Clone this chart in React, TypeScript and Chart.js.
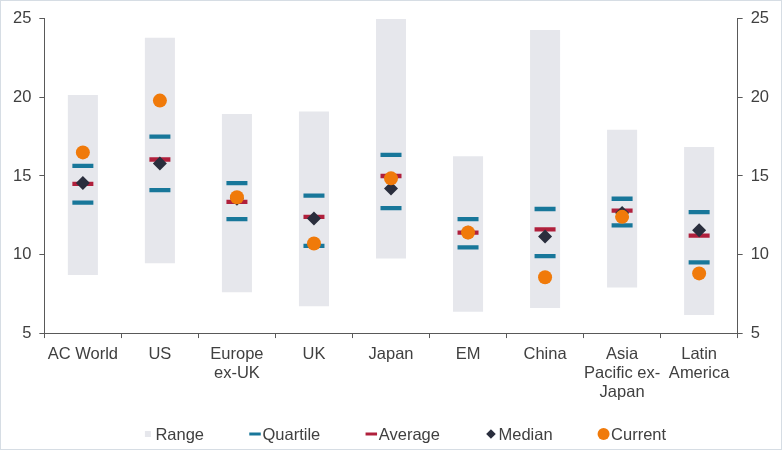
import React, { useEffect, useRef } from "react";
import { Chart, registerables } from "chart.js";

Chart.register(...registerables);

const FONT = "'Liberation Sans', Arial, sans-serif";
const TEXT_COLOR = "#404040";
const AXIS_COLOR = "#595959";

const categories = [
  "AC World",
  "US",
  "Europe ex-UK",
  "UK",
  "Japan",
  "EM",
  "China",
  "Asia Pacific ex-Japan",
  "Latin America",
];
const tickLabels = [
  ["AC World"],
  ["US"],
  ["Europe", "ex-UK"],
  ["UK"],
  ["Japan"],
  ["EM"],
  ["China"],
  ["Asia", "Pacific ex-", "Japan"],
  ["Latin", "America"],
];
const rangeLow = [8.7, 9.45, 7.6, 6.7, 9.75, 6.35, 6.6, 7.9, 6.15];
const rangeHigh = [20.15, 23.8, 18.95, 19.1, 25.0, 16.25, 24.3, 17.95, 16.85];
const quartileUpper = [15.65, 17.5, 14.55, 13.75, 16.35, 12.25, 12.9, 13.55, 12.7];
const quartileLower = [13.3, 14.1, 12.25, 10.55, 12.95, 10.45, 9.9, 11.85, 9.5];
const average = [14.5, 16.05, 13.35, 12.4, 15.0, 11.4, 11.6, 12.8, 11.2];
const median = [14.55, 15.8, 13.55, 12.3, 14.2, 11.4, 11.15, 12.65, 11.55];
const current = [16.5, 19.8, 13.65, 10.7, 14.85, 11.4, 8.55, 12.4, 8.8];
const yMin = 5;
const yMax = 25;
const yStep = 5;

const COLORS = {
  range: "#E6E7EC",
  quartile: "#18779A",
  average: "#B0203C",
  median: "#2A2E3D",
  current: "#F07A0A",
};

const legendPlugin = {
  id: "customLegend",
  afterDraw(chart: any) {
    const ctx: CanvasRenderingContext2D = chart.ctx;
    const items = [
      { text: "Range", kind: "rect", color: COLORS.range },
      { text: "Quartile", kind: "line", color: COLORS.quartile },
      { text: "Average", kind: "line", color: COLORS.average },
      { text: "Median", kind: "diamond", color: COLORS.median },
      { text: "Current", kind: "circle", color: COLORS.current },
    ];
    ctx.save();
    ctx.font = `16.5px ${FONT}`;
    const box = 12;
    const textGap = 1.5;
    const itemGap = 45;
    const widths = items.map((it) => box + textGap + ctx.measureText(it.text).width);
    const total = widths.reduce((a, b) => a + b, 0) + itemGap * (items.length - 1);
    const area = chart.chartArea;
    let x = (area.left + area.right) / 2 + 13 - total / 2;
    const y = chart.height - 15;
    items.forEach((it, i) => {
      const cx = x + box / 2;
      ctx.fillStyle = it.color;
      ctx.strokeStyle = it.color;
      if (it.kind === "rect") {
        ctx.fillRect(cx - 3, y - 3, 6, 6);
      } else if (it.kind === "line") {
        ctx.lineWidth = 3;
        ctx.beginPath();
        ctx.moveTo(cx - 5.75, y);
        ctx.lineTo(cx + 5.75, y);
        ctx.stroke();
      } else if (it.kind === "diamond") {
        const r = 4.8;
        ctx.beginPath();
        ctx.moveTo(cx - r, y);
        ctx.lineTo(cx, y - r);
        ctx.lineTo(cx + r, y);
        ctx.lineTo(cx, y + r);
        ctx.closePath();
        ctx.fill();
      } else {
        ctx.beginPath();
        ctx.arc(cx, y, 6, 0, Math.PI * 2);
        ctx.fill();
      }
      ctx.fillStyle = TEXT_COLOR;
      ctx.textBaseline = "middle";
      ctx.textAlign = "left";
      ctx.fillText(it.text, x + box + textGap, y + 1);
      x += widths[i] + itemGap;
    });
    ctx.restore();
  },
};

export default function App() {
  const canvasRef = useRef<HTMLCanvasElement | null>(null);

  useEffect(() => {
    document.body.style.margin = "0";
    const canvas = canvasRef.current;
    if (!canvas) return;

    const markerLine = (label: string, data: number[], color: string, order: number) => ({
      type: "line" as const,
      label,
      data,
      showLine: false,
      pointStyle: "line",
      pointRadius: 10.5,
      pointBorderWidth: 4.3,
      borderColor: color,
      backgroundColor: color,
      pointBorderColor: color,
      order,
      yAxisID: "y",
    });

    const axisGrid = {
      display: true,
      drawOnChartArea: false,
      drawTicks: true,
      tickLength: 5,
      color: AXIS_COLOR,
    };

    const chart = new Chart(canvas, {
      type: "bar",
      data: {
        labels: categories,
        datasets: [
          {
            type: "bar",
            label: "Range",
            data: categories.map((_, i) => [rangeLow[i], rangeHigh[i]]) as any,
            backgroundColor: COLORS.range,
            borderWidth: 0,
            barPercentage: 0.39,
            categoryPercentage: 1,
            order: 6,
            yAxisID: "y",
          },
          markerLine("Quartile", quartileUpper, COLORS.quartile, 5) as any,
          markerLine("Quartile low", quartileLower, COLORS.quartile, 4) as any,
          markerLine("Average", average, COLORS.average, 3) as any,
          {
            type: "line",
            label: "Median",
            data: median,
            showLine: false,
            pointStyle: "rectRot",
            pointRadius: 7,
            pointBorderWidth: 0,
            backgroundColor: COLORS.median,
            borderColor: COLORS.median,
            order: 2,
            yAxisID: "y",
          } as any,
          {
            type: "line",
            label: "Current",
            data: current,
            showLine: false,
            pointStyle: "circle",
            pointRadius: 7,
            pointBorderWidth: 0,
            backgroundColor: COLORS.current,
            borderColor: COLORS.current,
            order: 1,
            yAxisID: "y",
          } as any,
        ],
      },
      options: {
        animation: false,
        responsive: false,
        events: [],
        layout: { padding: { top: 8, left: 4, right: 4, bottom: 40 } },
        plugins: {
          legend: { display: false },
          tooltip: { enabled: false },
        },
        scales: {
          x: {
            offset: true,
            grid: { ...axisGrid, offset: true },
            border: { display: true, color: AXIS_COLOR, width: 1 },
            ticks: {
              color: TEXT_COLOR,
              font: { family: FONT, size: 16.5, lineHeight: 1.15 },
              padding: 7,
              maxRotation: 0,
              autoSkip: false,
              callback: (_v: any, i: number) => tickLabels[i],
            },
          },
          y: {
            position: "left",
            min: yMin,
            max: yMax,
            grid: axisGrid,
            border: { display: true, color: AXIS_COLOR, width: 1 },
            ticks: {
              stepSize: yStep,
              color: TEXT_COLOR,
              font: { family: FONT, size: 16.5 },
              padding: 8,
            },
          },
          y2: {
            position: "right",
            min: yMin,
            max: yMax,
            grid: axisGrid,
            border: { display: true, color: AXIS_COLOR, width: 1 },
            ticks: {
              stepSize: yStep,
              color: TEXT_COLOR,
              font: { family: FONT, size: 16.5 },
              padding: 8,
            },
          },
        },
      },
      plugins: [legendPlugin],
    });

    return () => chart.destroy();
  }, []);

  return (
    <div
      style={{
        width: 782,
        height: 450,
        boxSizing: "border-box",
        border: "1px solid #d6dde4",
        background: "#ffffff",
      }}
    >
      <canvas ref={canvasRef} width={780} height={448} style={{ display: "block", width: 780, height: 448 }} />
    </div>
  );
}
